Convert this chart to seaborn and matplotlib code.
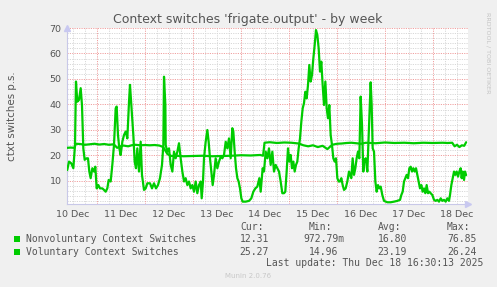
import matplotlib
matplotlib.use("Agg")
import matplotlib.pyplot as plt
from matplotlib.patches import Rectangle
import seaborn as sns
import numpy as np

# ---------------- data ----------------
nonvol_day = [10.38, 10.417, 10.465, 10.507, 10.542, 10.562, 10.590, 10.625, 10.66, 10.687,
              10.715, 10.743, 10.785, 10.812, 10.84, 10.868, 10.903, 10.938, 10.965, 10.993,
              11.028, 11.062, 11.111, 11.146, 11.18, 11.215, 11.243, 11.285, 11.319, 11.354,
              11.389, 11.41, 11.437, 11.465, 11.493, 11.528, 11.562, 11.597, 11.632, 11.667,
              11.687, 11.715, 11.757, 11.785, 11.812, 11.84, 11.875, 11.91, 11.937, 11.979,
              12.014, 12.049, 12.104, 12.146, 12.187, 12.229, 12.271, 12.312, 12.354, 12.382,
              12.396, 12.424,
              12.431, 12.465, 12.5, 12.535, 12.57, 12.604, 12.639, 12.674, 12.708, 12.743,
              12.778, 12.813, 12.847, 12.882, 12.917, 12.951, 12.986, 13.021, 13.056, 13.09,
              13.125, 13.16, 13.181, 13.208, 13.229, 13.264, 13.299, 13.326, 13.354, 13.382,
              13.41, 13.438, 13.472, 13.507, 13.542, 13.577, 13.611, 13.646, 13.681, 13.715,
              13.75, 13.785, 13.819, 13.84, 13.868, 13.896, 13.924, 13.951, 13.979, 14.007,
              14.035, 14.097, 14.167, 14.215, 14.257, 14.299, 14.34, 14.382, 14.41, 14.451,
              14.479, 14.514, 14.549, 14.583, 14.618, 14.653, 14.687, 14.722, 14.757, 14.792,
              14.826, 14.861, 14.896, 14.923, 14.951, 14.979, 15.007, 15.035, 15.062, 15.09,
              15.118, 15.146, 15.173, 15.201, 15.229, 15.257, 15.285, 15.312, 15.34, 15.368,
              15.396, 15.423, 15.451, 15.479, 15.507, 15.535, 15.562, 15.59, 15.618, 15.646,
              15.673, 15.701, 15.729, 15.757, 15.785, 15.812, 15.84, 15.868, 15.896, 15.923,
              15.951, 15.979, 16.007, 16.035, 16.062, 16.09, 16.118, 16.146, 16.18, 16.215,
              16.25, 16.271, 16.298, 16.326, 16.354, 16.382, 16.409, 16.437, 16.465, 16.493,
              16.521, 16.548,
              16.5625, 16.597, 16.632, 16.653, 16.681, 16.701, 16.722, 16.743, 16.771, 16.799,
              16.826, 16.854, 16.882, 16.91, 16.944, 16.979, 17.049, 17.118, 17.188, 17.257,
              17.313, 17.34, 17.368, 17.396, 17.424, 17.451, 17.479, 17.507, 17.535, 17.563,
              17.59, 17.618, 17.646, 17.674, 17.701, 17.729, 17.757, 17.785, 17.813, 17.84,
              17.868, 17.896, 17.924, 17.951, 17.986, 18.021, 18.056, 18.09, 18.125, 18.16,
              18.194, 18.229, 18.264, 18.299, 18.333, 18.354, 18.382, 18.41, 18.438, 18.465,
              18.493, 18.521, 18.549, 18.576, 18.597, 18.618, 18.646, 18.667, 18.69]
nonvol_val = [14.3, 17.6, 16.9, 15.0, 24.1, 49.0, 41.1, 41.8, 46.4, 39.8,
              22.8, 18.3, 18.9, 18.9, 13.7, 11.1, 15.0, 13.7, 15.6, 7.1,
              8.4, 7.1, 7.1, 6.5, 5.8, 7.1, 10.4, 9.8, 16.3, 24.1,
              38.5, 39.2, 28.0, 22.8, 20.2, 25.4, 28.0, 29.4, 26.7, 41.1,
              47.7, 39.8, 28.0, 17.6, 15.0, 22.8, 13.7, 25.4, 12.4, 6.5,
              7.1, 9.1, 9.1, 7.1, 9.1, 7.1, 8.4, 11.1, 16.3, 24.1,
              50.9, 39.8,
              24.1, 21.5, 22.8, 16.3, 13.7, 21.5, 18.9, 21.5, 24.8, 18.9,
              13.7, 9.8, 11.1, 8.4, 9.8, 7.1, 8.4, 5.8, 9.8, 5.2,
              8.4, 9.8, 3.2, 9.8, 18.9, 25.4, 30.0, 25.4, 18.9, 13.7,
              8.4, 12.4, 18.9, 15.0, 17.6, 19.5, 18.9, 20.2, 25.4, 22.8,
              26.7, 18.9, 30.7, 29.4, 21.5, 15.0, 11.1, 9.8, 7.1, 3.2,
              1.9, 1.9, 2.2, 3.2, 5.8, 7.1, 7.8, 11.1, 5.8, 15.0,
              13.7, 21.5, 18.9, 22.8, 16.3, 21.5, 13.7, 16.3, 15.0, 13.7,
              9.8, 5.2, 5.2, 5.8, 13.7, 22.8, 17.6, 20.2, 15.0, 17.6,
              13.7, 16.3, 17.6, 22.8, 26.7, 33.3, 38.5, 40.5, 45.0, 42.4,
              47.7, 55.5, 49.0, 51.6, 58.1, 63.3, 69.2, 67.3, 62.0, 52.9,
              56.8, 47.7, 39.8, 49.0, 38.5, 34.6, 39.8, 28.0, 24.1, 18.9,
              17.6, 18.9, 11.1, 9.8, 9.8, 11.1, 8.4, 6.5, 7.1, 9.8,
              13.7, 12.4, 11.1, 18.9, 12.4, 15.0, 18.9, 21.5, 18.9, 43.1,
              32.0, 13.7,
              17.6, 18.9, 13.7, 24.1, 37.2, 48.7, 39.8, 22.8, 21.5, 9.8,
              5.8, 8.4, 7.1, 7.8, 4.5, 2.2, 1.65, 1.65, 1.9, 2.2,
              2.6, 4.5, 5.8, 9.8, 11.1, 12.4, 11.1, 15.0, 15.6, 13.7,
              15.0, 13.7, 15.0, 12.4, 9.8, 7.1, 8.4, 5.8, 7.1, 5.2,
              8.4, 5.2, 5.8, 5.2, 4.5, 2.6, 2.2, 2.6, 1.9, 3.2,
              2.2, 2.6, 1.9, 3.2, 2.2, 4.5, 8.4, 11.1, 13.7, 12.4,
              13.7, 11.7, 13.7, 15.0, 11.1, 13.7, 10.4, 13.7, 12.3]

vol_day = [10.38, 10.45, 10.53, 10.56, 10.65, 10.75, 10.85, 10.95, 11.05, 11.15,
           11.25, 11.35, 11.42, 11.47, 11.55, 11.65, 11.72, 11.8, 11.9, 12.0,
           12.1, 12.2, 12.3, 12.38, 12.42, 12.47, 12.55, 12.65, 12.8, 13.0,
           13.2, 13.4, 13.6, 13.8, 14.0, 14.2, 14.4, 14.46, 14.49, 14.6,
           14.75, 14.9, 15.05, 15.2, 15.3, 15.4, 15.5, 15.6, 15.7, 15.8,
           15.9, 16.0, 16.1, 16.2, 16.3, 16.4, 16.5, 16.6, 16.8, 17.0,
           17.2, 17.4, 17.6, 17.8, 18.0, 18.2, 18.3, 18.4, 18.45, 18.5,
           18.55, 18.6, 18.65, 18.69]
vol_val = [23.0, 23.1, 23.0, 24.6, 24.5, 24.2, 24.4, 24.6, 24.3, 24.5,
           24.2, 24.4, 23.0, 23.5, 23.9, 23.6, 24.0, 24.2, 24.0, 24.1,
           24.0, 24.1, 23.9, 23.3, 22.0, 20.5, 19.8, 19.9, 19.7, 19.8,
           19.9, 19.7, 19.8, 19.9, 20.1, 20.0, 20.2, 19.9, 25.0, 25.2,
           24.9, 25.1, 25.0, 24.7, 24.0, 23.6, 24.0, 23.3, 23.8, 22.5,
           24.2, 24.6, 24.7, 24.9, 25.0, 24.8, 24.6, 25.0, 24.8, 25.1,
           24.9, 25.0, 24.8, 25.0, 24.9, 25.0, 24.9, 25.0, 23.6, 24.2,
           23.3, 24.0, 23.8, 25.2]

tick_days = [10.5, 11.5, 12.5, 13.5, 14.5, 15.5, 16.5, 17.5, 18.5]
tick_labels = ["10 Dec", "11 Dec", "12 Dec", "13 Dec", "14 Dec", "15 Dec", "16 Dec", "17 Dec", "18 Dec"]
y_ticks = [10, 20, 30, 40, 50, 60, 70]

series_names = ["Nonvoluntary Context Switches", "Voluntary Context Switches"]
cur_vals = ["12.31", "25.27"]
min_vals = ["972.79m", "14.96"]
avg_vals = ["16.80", "23.19"]
max_vals = ["76.85", "26.24"]

# ---------------- style ----------------
sns.set_style("white")
plt.rcParams['font.family'] = ['DejaVu Sans']

W, H = 497, 287
fig = plt.figure(figsize=(W / 100, H / 100), dpi=100, facecolor="#f0f0f0")
ax = fig.add_axes([67 / W, (H - 204) / H, 401 / W, 176 / H])
ax.set_facecolor("white")

GREEN = "#00cc00"
TXT = "#555555"

ax.set_xlim(10.375, 18.729)
ax.set_ylim(0.97279, 70)

# grid: minor gray, major red
minor_x = np.arange(10.5, 18.8, 0.25)
major_x = np.arange(11, 19, 1)
for xv in minor_x:
    if abs(xv - round(xv)) > 1e-6:
        ax.axvline(xv, color="#d8d8d8", lw=0.7, dashes=(1.2, 1.2), zorder=1)
for yv in np.arange(2, 70, 2):
    if yv % 10 != 0:
        ax.axhline(yv, color="#d8d8d8", lw=0.7, dashes=(1.2, 1.2), zorder=1)
for xv in major_x:
    ax.axvline(xv, color="#f0a0a0", lw=0.7, dashes=(1.2, 1.2), zorder=1)
for yv in y_ticks:
    ax.axhline(yv, color="#f0a0a0", lw=0.7, dashes=(1.2, 1.2), zorder=1, clip_on=False)

sns.lineplot(x=nonvol_day, y=nonvol_val, ax=ax, color=GREEN, linewidth=1.6,
             estimator=None, sort=False, zorder=3)
sns.lineplot(x=vol_day, y=vol_val, ax=ax, color=GREEN, linewidth=1.6,
             estimator=None, sort=False, zorder=3)

ax.set_xticks(tick_days)
ax.set_xticklabels(tick_labels)
ax.set_yticks(y_ticks)
ax.tick_params(axis="both", length=0, labelsize=6.8, labelcolor=TXT, pad=4)
ax.set_xlabel("")
ax.set_ylabel("ctxt switches p.s.", fontsize=7.4, color=TXT, labelpad=23)

for s in ["top", "right"]:
    ax.spines[s].set_visible(False)
for s in ["left", "bottom"]:
    ax.spines[s].set_color("#c8c8e8")
    ax.spines[s].set_linewidth(0.8)

# axis arrows
ax.plot([1.0], [0.0], marker=">", color="#c8c8f0", markersize=5,
        transform=ax.transAxes, clip_on=False, zorder=5)
ax.plot([0.0], [1.0], marker="^", color="#c8c8f0", markersize=5,
        transform=ax.transAxes, clip_on=False, zorder=5)


def fx(px):
    return px / W


def fy(py):
    return 1 - py / H


fig.text(fx(248), fy(19), "Context switches 'frigate.output' - by week",
         ha="center", va="center", fontsize=9.0, color=TXT)
fig.text(fx(488), fy(53), "RRDTOOL / TOBI OETIKER", ha="center", va="center",
         rotation=270, fontsize=4.6, color="#c4c4c4")

MONO = "DejaVu Sans Mono"
LFS = 7.0
hdr_y = 227.5
fig.text(fx(240), fy(hdr_y), "Cur:", family=MONO, fontsize=LFS, color=TXT, va="center")
fig.text(fx(309), fy(hdr_y), "Min:", family=MONO, fontsize=LFS, color=TXT, va="center")
fig.text(fx(378), fy(hdr_y), "Avg:", family=MONO, fontsize=LFS, color=TXT, va="center")
fig.text(fx(447), fy(hdr_y), "Max:", family=MONO, fontsize=LFS, color=TXT, va="center")

row_y = [239.3, 251.7]
for i, name in enumerate(series_names):
    yy = row_y[i]
    fig.patches.append(Rectangle((fx(14), fy(yy + 3)), 6 / W, 6 / H,
                                 transform=fig.transFigure, facecolor=GREEN,
                                 edgecolor="none"))
    fig.text(fx(26), fy(yy), name, family=MONO, fontsize=LFS, color=TXT, va="center")
    fig.text(fx(269), fy(yy), cur_vals[i], family=MONO, fontsize=LFS, color=TXT,
             va="center", ha="right")
    mv = min_vals[i]
    if mv.endswith("m"):
        fig.text(fx(344), fy(yy), mv, family=MONO, fontsize=LFS, color=TXT, va="center", ha="right")
    else:
        fig.text(fx(338), fy(yy), mv, family=MONO, fontsize=LFS, color=TXT, va="center", ha="right")
    fig.text(fx(407), fy(yy), avg_vals[i], family=MONO, fontsize=LFS, color=TXT,
             va="center", ha="right")
    fig.text(fx(477), fy(yy), max_vals[i], family=MONO, fontsize=LFS, color=TXT,
             va="center", ha="right")

fig.text(fx(483), fy(263.3), "Last update: Thu Dec 18 16:30:13 2025", family=MONO,
         fontsize=LFS, color=TXT, va="center", ha="right")
fig.text(fx(248), fy(276), "Munin 2.0.76", fontsize=5.0, color="#c8c8c8",
         ha="center", va="center")

fig.savefig("out.png", dpi=100, facecolor=fig.get_facecolor())
